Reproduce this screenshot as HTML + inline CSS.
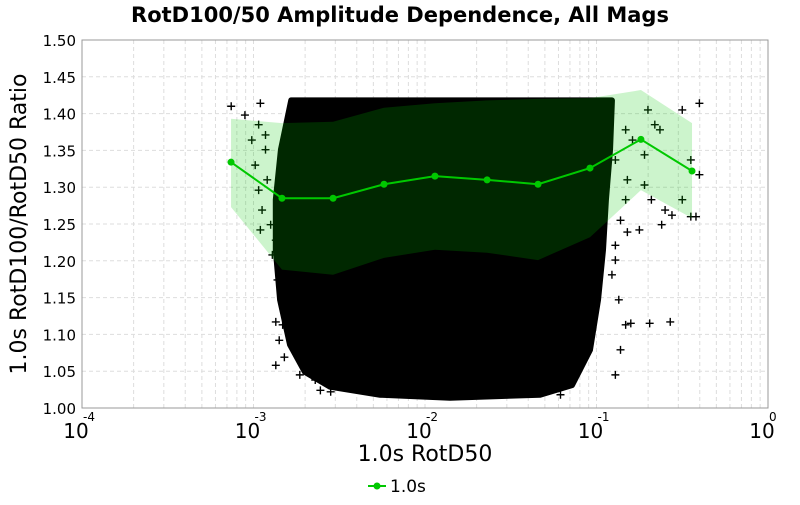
<!DOCTYPE html>
<html><head><meta charset="utf-8"><style>
body{margin:0;background:#fff;}
svg text{font-family:"DejaVu Sans","Liberation Sans",sans-serif;}
</style></head><body>
<svg id="chart" width="800" height="500" xmlns="http://www.w3.org/2000/svg">
<text x="400" y="22" text-anchor="middle" font-size="21" font-weight="bold">RotD100/50 Amplitude Dependence, All Mags</text>
<g id="grid"></g>
<g id="cloud"></g>
<g id="band"></g>
<g id="line"></g>
<rect x="82" y="40" width="686" height="368" fill="none" stroke="#999"/>
<g id="yticks"></g>
<g id="xticks"></g>
<text x="425" y="461" text-anchor="middle" font-size="22">1.0s RotD50</text>
<text transform="translate(26,224) rotate(-90)" text-anchor="middle" font-size="22">1.0s RotD100/RotD50 Ratio</text>
<g>
<line x1="368" y1="486" x2="386" y2="486" stroke="#00c800" stroke-width="2"/>
<circle cx="377" cy="486" r="3.5" fill="#00c800"/>
<text x="390" y="492" font-size="17">1.0s</text>
</g>
</svg>
<script>
const meanLogX=[-3.131,-2.834,-2.536,-2.239,-1.942,-1.638,-1.341,-1.038,-0.741,-0.443];
const meanVals=[1.334,1.285,1.285,1.304,1.315,1.310,1.304,1.326,1.365,1.322];
const upperVals=[1.393,1.387,1.389,1.408,1.414,1.418,1.420,1.421,1.432,1.387];
const lowerVals=[1.273,1.188,1.181,1.204,1.215,1.211,1.201,1.232,1.296,1.258];
const cloudLogX=[-2.78,-0.910,-0.921,-0.945,-0.962,-0.991,-1.038,-1.143,-1.329,-1.854,-2.262,-2.554,-2.700,-2.787,-2.845,-2.870,-2.870,-2.840];
const cloudVals=[1.418,1.418,1.351,1.283,1.215,1.147,1.079,1.031,1.018,1.014,1.018,1.029,1.049,1.086,1.147,1.215,1.283,1.351];
const outLogX=[-3.13,-2.96,-3.05,-2.97,-2.93,-3.01,-2.93,-2.99,-2.92,-2.97,-2.95,-2.90,-2.96,-2.87,-2.89,-2.82,-2.86,-2.82,-2.79,-2.87,-2.83,-2.85,-2.87,-2.82,-2.70,-2.73,-2.64,-2.61,-2.48,-2.55,
-0.98,-0.95,-0.89,-0.83,-0.79,-0.70,-0.66,-0.63,-0.72,-0.82,-0.72,-0.68,-0.60,-0.56,-0.75,-0.62,-0.45,-0.40,-0.50,-0.45,-0.50,-0.40,-0.83,-0.86,-0.82,-0.89,-0.89,-0.91,-0.87,-0.83,-0.86,-0.80,-0.69,-0.89,-1.21,-0.57,-0.42];
const outVals=[1.410,1.414,1.398,1.385,1.371,1.364,1.351,1.330,1.310,1.296,1.269,1.249,1.242,1.228,1.208,1.194,1.174,1.147,1.133,1.117,1.113,1.092,1.058,1.069,1.065,1.045,1.038,1.024,1.031,1.022,
1.391,1.364,1.337,1.378,1.364,1.405,1.385,1.378,1.344,1.310,1.303,1.283,1.269,1.262,1.242,1.249,1.337,1.317,1.283,1.260,1.405,1.414,1.283,1.255,1.239,1.221,1.201,1.181,1.147,1.113,1.079,1.115,1.115,1.045,1.018,1.117,1.26];
const yTicks=[1.00,1.05,1.10,1.15,1.20,1.25,1.30,1.35,1.40,1.45,1.50];
const xTickExp=[-4,-3,-2,-1,0];
const NS='http://www.w3.org/2000/svg';
const X=l=>82+(l+4)*171.5;
const Y=v=>408-(v-1)*736;
function mk(t,a,p){const e=document.createElementNS(NS,t);for(const k in a)e.setAttribute(k,a[k]);p.appendChild(e);return e;}
const grid=document.getElementById('grid');
for(let d=-4;d<0;d++)for(let m=1;m<10;m++){const x=X(d+Math.log10(m));
const gl=mk('line',{x1:x,x2:x,y1:40,y2:408,stroke:'#ddd','stroke-dasharray':'4,3'},grid);

}
const yt=document.getElementById('yticks');
yTicks.forEach(v=>{const y=Y(v);
const gl=mk('line',{x1:82,x2:768,y1:y,y2:y,stroke:'#ddd','stroke-dasharray':'4,3'},grid);


const t=mk('text',{x:76,y:y+6,'text-anchor':'end','font-size':15},yt);t.textContent=v.toFixed(2);

});
const xt=document.getElementById('xticks');
xTickExp.forEach(e=>{const x=X(e);
const t=mk('text',{x:x-6,y:438,'text-anchor':'middle','font-size':20},xt);t.textContent='10';


const s=mk('text',{x:x+1,y:421,'font-size':12},xt);s.textContent=String(e);

});
const cloud=document.getElementById('cloud');
const cp=mk('polygon',{points:cloudLogX.map((l,i)=>X(l)+','+Y(cloudVals[i])).join(' '),fill:'#000',stroke:'#000','stroke-width':6,'stroke-linejoin':'round'},cloud);


outLogX.forEach((l,i)=>{const x=X(l),y=Y(outVals[i]);
const p=mk('path',{d:`M${x-4},${y}H${x+4}M${x},${y-4}V${y+4}`,stroke:'#000','stroke-width':1.4},cloud);

});
const band=document.getElementById('band');
const pts=meanLogX.map((l,i)=>X(l)+','+Y(upperVals[i])).concat(meanLogX.map((l,i)=>X(l)+','+Y(lowerVals[i])).reverse());
const bp=mk('polygon',{points:pts.join(' '),fill:'rgb(0,200,0)','fill-opacity':0.2},band);


const line=document.getElementById('line');
const pl=mk('polyline',{points:meanLogX.map((l,i)=>X(l)+','+Y(meanVals[i])).join(' '),fill:'none',stroke:'#00c800','stroke-width':2},line);


meanLogX.forEach((l,i)=>{const c=mk('circle',{cx:X(l),cy:Y(meanVals[i]),r:3.5,fill:'#00c800'},line);

});
</script>
</body></html>
